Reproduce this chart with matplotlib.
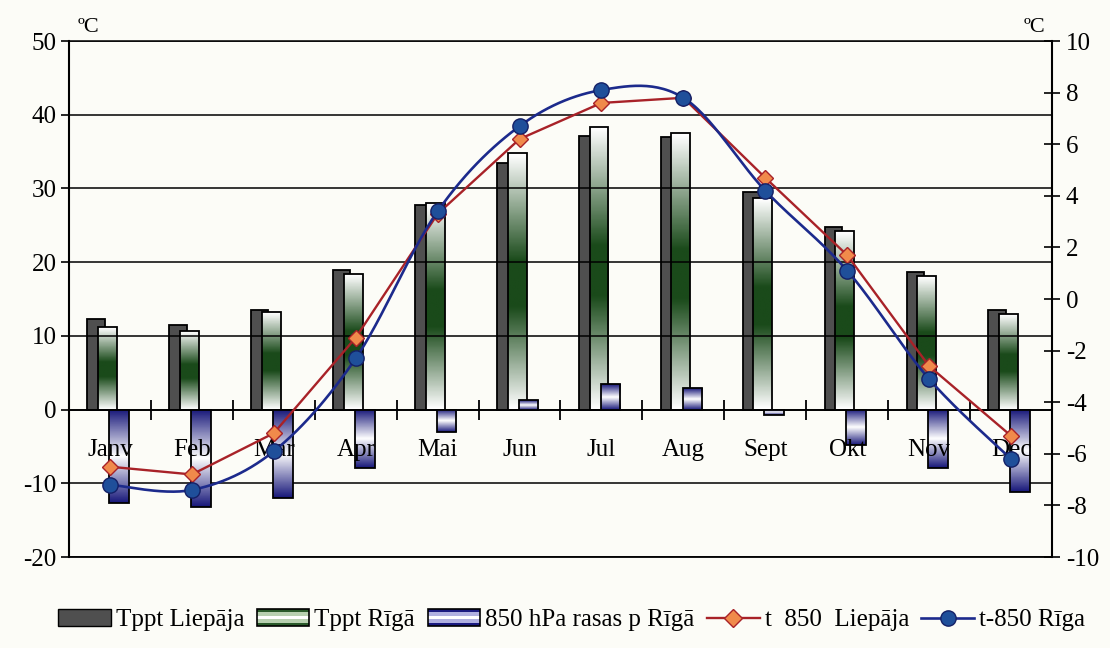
import matplotlib
matplotlib.use('Agg')
import matplotlib.pyplot as plt
import numpy as np
from matplotlib.colors import LinearSegmentedColormap
from matplotlib.patches import Rectangle, Patch
from matplotlib.lines import Line2D
from matplotlib.legend_handler import HandlerBase

plt.rcParams['font.family'] = ['Liberation Serif', 'DejaVu Serif']
plt.rcParams['axes.unicode_minus'] = False

months = ['Janv', 'Feb', 'Mar', 'Apr', 'Mai', 'Jun', 'Jul', 'Aug', 'Sept', 'Okt', 'Nov', 'Dec']

# left axis (bars)
tppt_liepaja = [12.3, 11.5, 13.5, 18.9, 27.8, 33.4, 37.1, 37.0, 29.5, 24.8, 18.7, 13.5]
tppt_riga = [11.2, 10.7, 13.2, 18.4, 28.0, 34.8, 38.4, 37.5, 28.7, 24.2, 18.1, 13.0]
rasas_riga = [-12.7, -13.2, -12.0, -7.9, -3.0, 1.3, 3.5, 2.9, -0.7, -4.8, -7.9, -11.2]

# right axis (lines)
t850_liepaja = [-6.5, -6.8, -5.2, -1.5, 3.3, 6.2, 7.6, 7.8, 4.7, 1.7, -2.6, -5.3]
t850_riga = [-7.2, -7.4, -5.9, -2.3, 3.4, 6.7, 8.1, 7.8, 4.2, 1.1, -3.1, -6.2]

BG = '#fcfcf7'
green_cmap = LinearSegmentedColormap.from_list(
    'g', [(0, '#ffffff'), (0.42, '#1a4a1a'), (0.6, '#1a4a1a'), (1, '#ffffff')])
blue_cmap = LinearSegmentedColormap.from_list(
    'b', [(0, '#18187a'), (0.5, '#ffffff'), (1, '#18187a')])


def smooth(xs, ys, n=30):
    # excel-style smoothed line (bezier with catmull-rom control points)
    px, py = list(xs), list(ys)
    out_x, out_y = [], []
    for i in range(len(px) - 1):
        x0, y0 = px[max(i - 1, 0)], py[max(i - 1, 0)]
        x1, y1 = px[i], py[i]
        x2, y2 = px[i + 1], py[i + 1]
        x3, y3 = px[min(i + 2, len(px) - 1)], py[min(i + 2, len(px) - 1)]
        c1x, c1y = x1 + (x2 - x0) / 6, y1 + (y2 - y0) / 6
        c2x, c2y = x2 - (x3 - x1) / 6, y2 - (y3 - y1) / 6
        t = np.linspace(0, 1, n)
        bx = (1-t)**3*x1 + 3*(1-t)**2*t*c1x + 3*(1-t)*t**2*c2x + t**3*x2
        by = (1-t)**3*y1 + 3*(1-t)**2*t*c1y + 3*(1-t)*t**2*c2y + t**3*y2
        out_x.extend(bx)
        out_y.extend(by)
    return out_x, out_y


def gradient_bars(ax, x, vals, width, cmap, z):
    bars = ax.bar(x, vals, width, facecolor='none', edgecolor='black', linewidth=1.3, zorder=z + 0.1)
    grad = np.linspace(0, 1, 100).reshape(-1, 1)
    for r in bars:
        x0, y0 = r.get_x(), r.get_y()
        x1, y1 = x0 + r.get_width(), y0 + r.get_height()
        im = ax.imshow(grad, cmap=cmap, aspect='auto', extent=(x0, x1, min(y0, y1), max(y0, y1)),
                       zorder=z, interpolation='bilinear')
        im.set_clip_path(r)
    return bars


class StripeHandler(HandlerBase):
    def __init__(self, colors):
        super().__init__()
        self.colors = colors

    def create_artists(self, legend, orig_handle, xdescent, ydescent, width, height, fontsize, trans):
        arts = []
        n = len(self.colors)
        for i, c in enumerate(self.colors):
            arts.append(Rectangle((-xdescent, -ydescent + height * i / n), width, height / n,
                                  facecolor=c, edgecolor='none', transform=trans))
        arts.append(Rectangle((-xdescent, -ydescent), width, height, facecolor='none',
                              edgecolor='black', lw=1.2, transform=trans))
        return arts


fig = plt.figure(figsize=(11.1, 6.48), dpi=100, facecolor=BG)
ax = fig.add_axes([0.0622, 0.1404, 0.8855, 0.7963])
ax.set_facecolor(BG)
x = np.arange(len(months))

ax.bar(x - 0.17, tppt_liepaja, 0.21, color='#4f4f4f', edgecolor='black', linewidth=1.3, zorder=1)
gradient_bars(ax, x - 0.03, tppt_riga, 0.23, green_cmap, 2)
gradient_bars(ax, x + 0.11, rasas_riga, 0.24, blue_cmap, 3)

ax.set_xlim(-0.5, 11.5)
ax.set_ylim(-20, 50)
ax.set_yticks(range(-20, 51, 10))
ax.yaxis.grid(True, color='black', linewidth=1.1)
ax.set_axisbelow(False)
for g in ax.get_ygridlines():
    g.set_zorder(0.5)
ax.tick_params(axis='y', direction='out', length=6, width=1.2, labelsize=18, pad=3)

ax.spines['bottom'].set_position(('data', 0))
ax.spines['bottom'].set_linewidth(1.3)
ax.spines['left'].set_linewidth(1.5)
ax.spines['top'].set_visible(False)
ax.spines['right'].set_visible(False)
ax.set_xticks(np.arange(0.5, 11, 1))
ax.set_xticklabels([])
ax.set_xticks(x, minor=True)
ax.set_xticklabels(months, minor=True)
ax.tick_params(axis='x', which='major', direction='inout', length=14, width=1.3)
ax.tick_params(axis='x', which='minor', length=0, pad=21, labelsize=18)
ax.xaxis.set_zorder(5)

ax2 = ax.twinx()
ax2.set_ylim(-10, 10)
ax2.set_yticks(range(-10, 11, 2))
ax2.tick_params(axis='y', direction='inout', length=12, width=1.2, labelsize=18, pad=4)
ax2.spines['right'].set_linewidth(1.5)
ax2.spines['left'].set_visible(False)
ax2.spines['top'].set_linewidth(1.1)
ax2.spines['bottom'].set_linewidth(1.3)

ax2.plot(x, t850_liepaja, color='#a82228', linewidth=1.7, zorder=3)
ax2.plot(x, t850_liepaja, linestyle='none', marker='D', markersize=8.5,
         markerfacecolor='#f08a4b', markeredgecolor='#a82228', markeredgewidth=1, zorder=4)
sx, sy = smooth(x, t850_riga)
ax2.plot(sx, sy, color='#1c2a8c', linewidth=1.9, zorder=3)
ax2.plot(x, t850_riga, linestyle='none', marker='o', markersize=11,
         markerfacecolor='#1f4f9a', markeredgecolor='#142066', markeredgewidth=1, zorder=5)

fig.text(0.070, 0.958, 'ºC', fontsize=16, va='center')
fig.text(0.922, 0.958, 'ºC', fontsize=16, va='center')

handles = [
    Patch(facecolor='#4f4f4f', edgecolor='black'),
    Patch(facecolor='#1d4f1d'),
    Patch(facecolor='#1a1a80'),
    Line2D([], [], color='#a82228', lw=1.7, marker='D', markersize=9,
           markerfacecolor='#f08a4b', markeredgecolor='#a82228'),
    Line2D([], [], color='#1c2a8c', lw=1.9, marker='o', markersize=11,
           markerfacecolor='#1f4f9a', markeredgecolor='#142066'),
]
labels = ['Tppt Liepāja', 'Tppt Rīgā', '850 hPa rasas p Rīgā', 't  850  Liepāja', 't-850 Rīga']
hmap = {
    handles[1]: StripeHandler(['#2a5a2a', '#b8d0b0', '#ffffff', '#b8d0b0', '#2a5a2a']),
    handles[2]: StripeHandler(['#1a1a80', '#b0b0e0', '#ffffff', '#b0b0e0', '#1a1a80']),
}
fig.legend(handles, labels, handler_map=hmap, loc='center', bbox_to_anchor=(0.515, 0.043),
           ncol=5, frameon=False, fontsize=18, handlelength=2.1, handletextpad=0.2,
           columnspacing=0.5)

fig.savefig('out.png', dpi=100, facecolor=BG)
